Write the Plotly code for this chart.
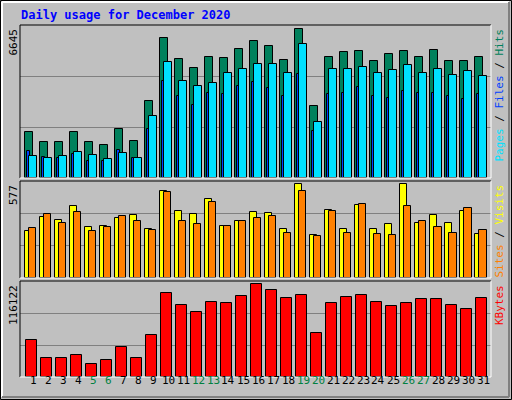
import plotly.graph_objects as go

days = list(range(1, 32))
weekend = [5, 6, 12, 13, 19, 20, 26, 27]
hits = [2011,1574,1574,2011,1574,1443,2142,1618,3323,6077,5159,4765,5246,5203,5596,5946,5727,5115,6470,3148,5246,5465,5509,5071,5377,5509,5246,5552,5071,5071,5246]
files = [961,874,961,1136,1005,830,1093,874,2709,5026,4195,3977,4108,4545,4720,4938,4938,4545,5812,2447,4720,4720,4807,4545,4676,4894,4545,4720,4457,4632,4414]
pages = [1180,918,874,1049,743,743,1224,874,2141,4195,3583,3190,3671,3627,3977,4152,3889,3583,4501,2054,3627,3671,3933,3583,3496,3758,3671,3671,3540,3452,3627]
visits = [279,365,346,431,304,310,358,377,292,516,401,383,468,310,340,395,389,292,559,255,407,292,437,292,322,559,328,377,328,401,261]
sites = [298,383,328,395,279,304,371,340,286,510,340,322,450,310,340,358,371,267,516,249,401,267,443,261,255,431,340,304,267,419,286]
kbytes = [44886,22649,22649,26355,15237,20178,36238,22649,51063,101715,86890,78242,90596,89361,98008,112833,105421,95538,99244,53534,89361,96773,99244,90596,85654,89361,94302,94302,86890,81948,95538]
max_hits, max_visits, max_kb = 6645, 577, 116122

W, H = 512, 400
def py(p): return 1 - p / H
def px(p): return p / W

fig = go.Figure()
line = dict(color="black", width=1)
def bar(y, color, off, w, ax):
    fig.add_trace(go.Bar(x=days, y=y, marker=dict(color=color, line=line),
                         offset=off, width=w, xaxis="x" + ax, yaxis="y" + ax, showlegend=False))

bar(hits, "#00805c", -0.51, 0.48, "")
bar(pages, "#0040ff", -0.38, 0.2, "")
bar(files, "#00e0ff", -0.27, 0.51, "")
bar(visits, "#ffff00", -0.51, 0.45, "2")
bar(sites, "#ff8000", -0.27, 0.5, "2")
bar(kbytes, "#ff0000", -0.45, 0.69, "3")

xd = [px(20), px(491)]
xr = [0.133, 31.53]
panels = [("", (178, 25), max_hits), ("2", (278, 181), max_visits), ("3", (377, 281), max_kb)]
lay = dict()
for ax, (b, t), m in panels:
    lay["xaxis" + ax] = dict(domain=xd, range=xr, showticklabels=False, showgrid=False,
                             zeroline=False, anchor="y" + ax, fixedrange=True)
    lay["yaxis" + ax] = dict(domain=[py(b), py(t)], range=[0, m * 1.0], tickvals=[m / 3, 2 * m / 3],
                             showticklabels=False, gridcolor="#808080", gridwidth=1,
                             zeroline=False, anchor="x" + ax)

fig.update_layout(width=W, height=H, margin=dict(l=0, r=0, t=0, b=0),
                  paper_bgcolor="#c0c0c0", plot_bgcolor="#c0c0c0", barmode="overlay",
                  bargap=0, **lay)

font = "DejaVu Sans Mono"
ann = []
P = dict(xref="paper", yref="paper", showarrow=False)
ann.append(dict(x=px(19), y=py(15), text="<b>Daily usage for December 2020</b>",
                xanchor="left", yanchor="middle", font=dict(family=font, size=12, color="#0000ff"), **P))
for d in days:
    ann.append(dict(x=d, y=py(389), xref="x3", yref="paper", text=str(d), showarrow=False,
                    font=dict(family=font, size=11, color="#008040" if d in weekend else "black")))
for (ax, (b, t), m) in panels:
    ann.append(dict(x=px(13), y=py(t + 2), text=str(m), textangle=-90,
                    xanchor="center", yanchor="top", font=dict(family=font, size=11, color="black"), **P))
right = [
    ((25, 178), "<span style='color:#00e0ff'>Pages</span> / <span style='color:#0040ff'>Files</span> / <span style='color:#00805c'>Hits</span>"),
    ((181, 278), "<span style='color:#ff8000'>Sites</span> / <span style='color:#ffff00'>Visits</span>"),
    ((281, 377), "<span style='color:#ff0000'>KBytes</span>"),
]
for (t, b), txt in right:
    ann.append(dict(x=px(499), y=py(t + 2), text=txt, textangle=-90,
                    xanchor="center", yanchor="top", font=dict(family=font, size=11, color="black"), **P))

shapes = []
def ln(x0, y0, x1, y1, c, w=1):
    shapes.append(dict(type="line", xref="paper", yref="paper", x0=px(x0), y0=py(y0),
                       x1=px(x1), y1=py(y1), line=dict(color=c, width=w)))
ln(0.5, 0.5, 511.5, 0.5, "black"); ln(0.5, 0.5, 0.5, 399.5, "black")
ln(511.5, 0.5, 511.5, 399.5, "black"); ln(0.5, 399.5, 511.5, 399.5, "black")
ln(2, 2, 509, 2, "white", 2); ln(2, 2, 2, 397, "white", 2)
ln(509, 2, 509, 397, "#808080", 2); ln(2, 397, 509, 397, "#808080", 2)
for (b, t) in [(178, 25), (278, 181), (377, 281)]:
    ln(20, t, 491, t, "black"); ln(20, t, 20, b, "black")
    ln(491, t, 491, b, "white"); ln(20, b, 491, b, "white")
fig.update_layout(annotations=ann, shapes=shapes)
fig.write_html("out.html", config={"displayModeBar": False},
               post_script="document.body.style.margin='0';document.body.style.padding='0';")
